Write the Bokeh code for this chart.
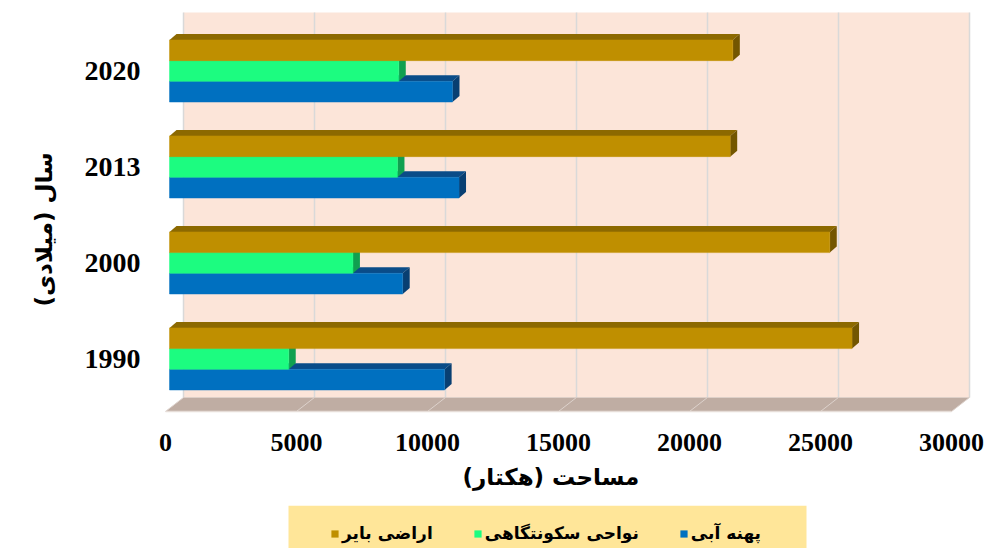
from bokeh.plotting import figure
from bokeh.models import Range1d, FixedTicker, Legend, LegendItem, Title
from bokeh.layouts import column
from bokeh.embed import file_html
from bokeh.resources import INLINE

# ---- data ----
years = ["1990", "2000", "2013", "2020"]
water = [10500, 8900, 11050, 10800]      # پهنه آبی
settle = [4550, 7000, 8700, 8750]        # نواحی سکونتگاهی
barren = [26050, 25200, 21400, 21500]    # اراضی بایر
x_ticks = [0, 5000, 10000, 15000, 20000, 25000, 30000]
series_names = ["پهنه آبی", "نواحی سکونتگاهی", "اراضی بایر"]
x_title = "مساحت (هکتار)"
y_title = "سال (میلادی)"

# ---- style / layout constants ----
FRONT = ["#0070c0", "#1cfc80", "#bf8f00"]
TOPC = ["#0a4c88", "#14b862", "#8c6900"]
ENDC = ["#083f72", "#10a050", "#735600"]
WALL = "#fce5d9"
FLOOR = "#bfada3"
GRID = "#d9d9d9"
LEGEND_BG = "#ffe699"

H = 0.2156          # bar thickness (category units)
BX0 = 153           # bar front-face start (depth shift)
BDX, BDY = 267, 0.0625   # bar depth
FDX, FDY = 687, 0.146    # floor depth
FLOOR_FRONT_Y = -0.547
WALL_TOP_Y = 3.609

p = figure(width=990, height=505, output_backend="svg", toolbar_location=None,
           x_range=Range1d(-573, 31106), y_range=Range1d(-0.589, 3.651),
           min_border_left=150, min_border_right=10, min_border_top=8,
           min_border_bottom=90)
p.background_fill_color = "white"
p.border_fill_color = "white"
p.outline_line_color = None
p.grid.visible = False

xmax = x_ticks[-1]
back_y = FLOOR_FRONT_Y + FDY

# back wall
p.quad(left=[FDX], right=[xmax + FDX], bottom=[back_y], top=[WALL_TOP_Y],
       fill_color=WALL, line_color=None)
# wall gridlines
p.segment(x0=[t + FDX for t in x_ticks], y0=[back_y] * len(x_ticks),
          x1=[t + FDX for t in x_ticks], y1=[WALL_TOP_Y] * len(x_ticks),
          line_color=GRID, line_width=1.5)
# floor
p.patch(x=[0, xmax, xmax + FDX, FDX], y=[FLOOR_FRONT_Y, FLOOR_FRONT_Y, back_y, back_y],
        fill_color=FLOOR, line_color=None)
p.segment(x0=x_ticks, y0=[FLOOR_FRONT_Y] * len(x_ticks),
          x1=[t + FDX for t in x_ticks], y1=[back_y] * len(x_ticks),
          line_color="#ddd2cc", line_width=1)
p.segment(x0=[0], y0=[FLOOR_FRONT_Y], x1=[xmax], y1=[FLOOR_FRONT_Y],
          line_color="#e6ddd8", line_width=1.5)

for s, (vals, k) in enumerate([(water, -1), (settle, 0), (barren, 1)]):
    txs, tys, exs, eys = [], [], [], []
    lefts, rights, bots, tops = [], [], [], []
    for i, v in enumerate(vals):
        yc = i + k * H
        b, t = yc - H / 2, yc + H / 2
        l, r = BX0, BX0 + v
        txs.append([l, r, r + BDX, l + BDX]); tys.append([t, t, t + BDY, t + BDY])
        exs.append([r, r + BDX, r + BDX, r]); eys.append([b, b + BDY, t + BDY, t])
        lefts.append(l); rights.append(r); bots.append(b); tops.append(t)
    p.patches(xs=txs, ys=tys, fill_color=TOPC[s], line_color=None)
    p.patches(xs=exs, ys=eys, fill_color=ENDC[s], line_color=None)
    p.quad(left=lefts, right=rights, bottom=bots, top=tops,
           fill_color=FRONT[s], line_color=FRONT[s], line_alpha=0.6, line_width=0.8)

# axes
p.xaxis.ticker = FixedTicker(ticks=x_ticks)
p.xaxis.major_label_overrides = {t: str(t) for t in x_ticks}
p.yaxis.ticker = FixedTicker(ticks=list(range(len(years))))
p.yaxis.major_label_overrides = {i: y for i, y in enumerate(years)}
for ax in (p.xaxis[0], p.yaxis[0]):
    ax.axis_line_color = None
    ax.major_tick_line_color = None
    ax.minor_tick_line_color = None
    ax.major_label_text_font = "Liberation Serif"
    ax.major_label_text_font_style = "bold"
    ax.major_label_text_color = "black"
p.xaxis.major_label_text_font_size = "26px"
p.yaxis.major_label_text_font_size = "28px"
p.xaxis.major_label_standoff = 12
p.yaxis.major_label_standoff = 4

xt = Title(text=x_title, align="left", offset=312, standoff=17,
           text_font="DejaVu Sans", text_font_style="bold", text_font_size="23px",
           text_color="black")
p.add_layout(xt, "below")
yt = Title(text=y_title, align="left", offset=109, standoff=50,
           text_font="DejaVu Sans", text_font_style="bold", text_font_size="23px",
           text_color="black")
p.add_layout(yt, "left")

# ---- legend strip (frame aligned with the chart frame: data units = page px) ----
q = figure(width=990, height=43, output_backend="svg", toolbar_location=None,
           x_range=Range1d(150, 980), y_range=Range1d(0, 43),
           x_axis_location=None, y_axis_location=None,
           min_border_left=150, min_border_right=10, min_border_top=0, min_border_bottom=0)
q.outline_line_color = None
q.grid.visible = False
q.background_fill_color = "white"
q.border_fill_color = "white"
q.quad(left=[288], right=[806], bottom=[0], top=[43], fill_color=LEGEND_BG, line_color=None)
dummies = [q.quad(left=[0], right=[1], bottom=[0], top=[1], fill_color=c, line_color=None)
           for c in FRONT]
legend = Legend(items=[LegendItem(label=series_names[2], renderers=[dummies[2]]),
                       LegendItem(label=series_names[1], renderers=[dummies[1]]),
                       LegendItem(label=series_names[0], renderers=[dummies[0]])],
                orientation="horizontal", location=(180, 5),
                background_fill_alpha=0, border_line_color=None,
                label_text_font="DejaVu Sans", label_text_font_style="bold",
                label_text_font_size="17px", label_text_color="black",
                glyph_width=9, glyph_height=9, label_standoff=3,
                spacing=40, padding=5, margin=0)
q.add_layout(legend)

open("out.html", "w").write(file_html(column(p, q, spacing=0), INLINE))
